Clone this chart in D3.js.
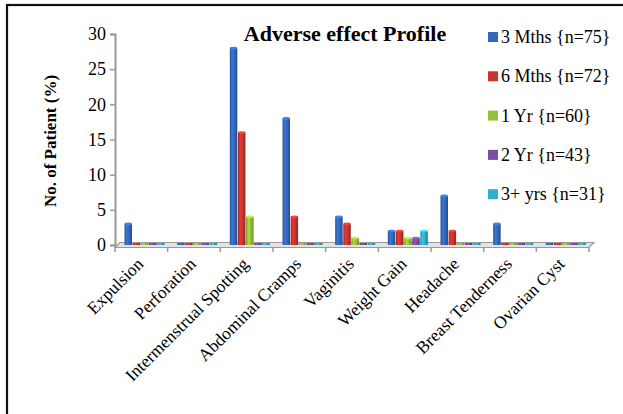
<!DOCTYPE html>
<html>
<head>
<meta charset="utf-8">
<script src="https://cdn.jsdelivr.net/npm/d3@7/dist/d3.min.js"></script>
<style>
  html, body { margin: 0; padding: 0; background: #fff; }
  svg { display: block; }
  text { font-family: "Liberation Serif", "Times New Roman", serif; fill: #000; }
</style>
</head>
<body>
<svg id="chart" width="623" height="414"></svg>
<script>
// Adverse effects by follow-up period (% of patients)
const categories = ["Expulsion", "Perforation", "Intermenstrual Spotting", "Abdominal Cramps",
  "Vaginitis", "Weight Gain", "Headache", "Breast Tenderness", "Ovarian Cyst"];
const seriesNames = ["3 Mths {n=75}", "6 Mths {n=72}", "1 Yr {n=60}", "2 Yr {n=43}", "3+ yrs {n=31}"];
const months3 = [3, 0, 28, 18, 4, 2, 7, 3, 0];
const months6 = [0, 0, 16, 4, 3, 2, 2, 0, 0];
const year1   = [0, 0, 4, 0, 1, 1, 0, 0, 0];
const year2   = [0, 0, 0, 0, 0, 1, 0, 0, 0];
const years3p = [0, 0, 0, 0, 0, 2, 0, 0, 0];
const yTicks = [0, 5, 10, 15, 20, 25, 30];
const seriesValues = [months3, months6, year1, year2, years3p];
const seriesColors = ["#3468bd", "#c9342f", "#98c13b", "#7a4f9f", "#2fb0cd"];

const svg = d3.select("#chart");

// outer frame (runs past the right and bottom edges)
svg.append("rect").attr("x", 7).attr("y", 5).attr("width", 640).attr("height", 450)
  .attr("fill", "none").attr("stroke", "#111").attr("stroke-width", 2.2);

const x0 = 115, x1 = 589;
const y = d3.scaleLinear().domain([0, 30]).range([245, 34]);
const xCat = d3.scaleBand().domain(categories).range([x0, x1]).padding(0);
const xSer = d3.scaleBand().domain(d3.range(seriesNames.length)).range([9.5, 49.5]).paddingInner(0.08);

// cylinder-like shading for each series
const defs = svg.append("defs");
seriesColors.forEach((c, i) => {
  const g = defs.append("linearGradient").attr("id", "bar" + i)
    .attr("x1", "0%").attr("x2", "100%").attr("y1", "0%").attr("y2", "0%");
  const base = d3.color(c);
  g.append("stop").attr("offset", "0%").attr("stop-color", base.darker(0.7));
  g.append("stop").attr("offset", "30%").attr("stop-color", base.brighter(0.35));
  g.append("stop").attr("offset", "60%").attr("stop-color", base);
  g.append("stop").attr("offset", "100%").attr("stop-color", base.darker(0.9));
});

// floor
const depth = 5;
svg.append("polygon")
  .attr("points", [[x0, 247.5], [x1, 247.5], [x1 + depth, 242.5], [x0 + depth, 242.5]].map(p => p.join(",")).join(" "))
  .attr("fill", "#e3e3e3").attr("stroke", "#9a9a9a").attr("stroke-width", 1.2);

// y axis
const yAxis = d3.axisLeft(y).tickValues(yTicks).tickSize(5).tickPadding(4);
const yG = svg.append("g").attr("transform", `translate(${x0},0)`).call(yAxis);
yG.attr("font-family", null);
yG.select(".domain").attr("stroke", "#9a9a9a").attr("stroke-width", 2);
yG.selectAll(".tick line").attr("stroke", "#9a9a9a").attr("stroke-width", 1.5);
yG.selectAll(".tick text").attr("font-size", "18px").attr("fill", "#000");

// x axis category ticks
const bounds = categories.map(c => xCat(c)).concat([x1]);
svg.append("g").selectAll("line").data(bounds).join("line")
  .attr("x1", d => d).attr("x2", d => d).attr("y1", 247.5).attr("y2", 252)
  .attr("stroke", "#9a9a9a").attr("stroke-width", 1.5);

// bars
const minH = 2;
const bw = xSer.bandwidth();
seriesValues.forEach((vals, si) => {
  const g = svg.append("g");
  g.selectAll("rect").data(vals).join("rect")
    .attr("x", (d, i) => xCat(categories[i]) + xSer(si))
    .attr("y", d => Math.min(y(d), y(0) - minH))
    .attr("width", bw)
    .attr("height", d => Math.max(y(0) - y(d), minH))
    .attr("fill", `url(#bar${si})`);
  // rounded cap on top of each non-zero cylinder
  const capped = vals.map((v, i) => ({ v, i })).filter(d => d.v > 0);
  g.selectAll("ellipse").data(capped).join("ellipse")
    .attr("cx", d => xCat(categories[d.i]) + xSer(si) + bw / 2)
    .attr("cy", d => y(d.v))
    .attr("rx", bw / 2).attr("ry", 1.3)
    .attr("fill", d3.color(seriesColors[si]).brighter(0.6));
});

// category labels
svg.append("g").selectAll("text").data(categories).join("text")
  .attr("transform", d => `translate(${xCat(d) + xCat.bandwidth() / 2 + 3},${265}) rotate(-45)`)
  .attr("text-anchor", "end")
  .attr("font-size", "17.5px")
  .text(d => d);

// title
svg.append("text").attr("x", 345).attr("y", 41).attr("text-anchor", "middle")
  .attr("font-size", "22px").attr("font-weight", "bold").text("Adverse effect Profile");

// y axis title
svg.append("text").attr("transform", "translate(56,141) rotate(-90)")
  .attr("text-anchor", "middle").attr("font-size", "17px").attr("font-weight", "bold")
  .text("No. of Patient (%)");

// legend
const legend = svg.append("g").selectAll("g").data(seriesNames).join("g")
  .attr("transform", (d, i) => `translate(488,${37 + i * 39.3})`);
legend.append("rect").attr("x", 0).attr("y", -5).attr("width", 10).attr("height", 10)
  .attr("fill", (d, i) => seriesColors[i]);
legend.append("text").attr("x", 13).attr("y", 6).attr("font-size", "18px").text(d => d);
</script>
</body>
</html>
